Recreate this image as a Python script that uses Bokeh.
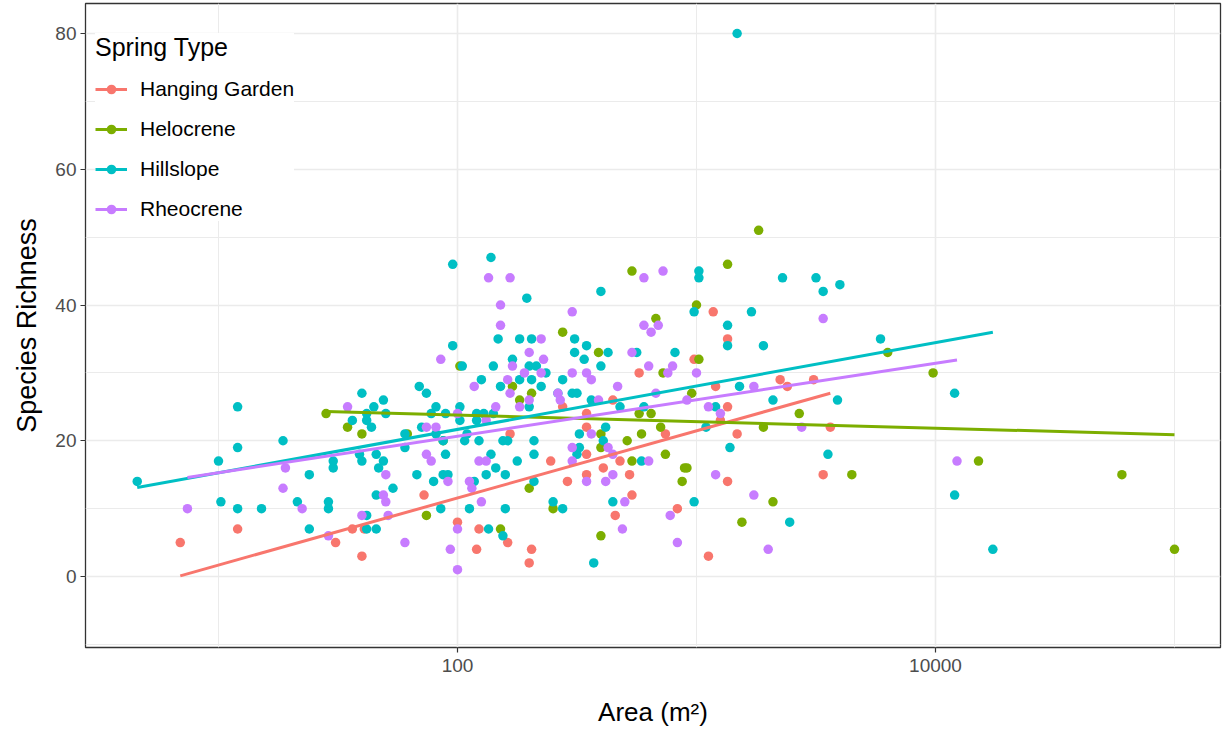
from bokeh.plotting import figure
from bokeh.models import (ColumnDataSource, Range1d, FixedTicker, NumeralTickFormatter,
                          Legend, LegendItem)
from bokeh.embed import file_html
from bokeh.resources import INLINE

spring_types = ["Hanging Garden", "Helocrene", "Hillslope", "Rheocrene"]
colors = ["#F8766D", "#7CAE00", "#00BFC4", "#C77CFF"]

# log10(Area, m^2) and species richness
hg_log_area = [0.84, 1.08, 1.49, 1.56, 1.61, 1.60, 1.86, 2.00, 2.08, 2.09,
               2.21, 2.22, 2.31, 2.30, 2.39, 2.46, 2.54, 2.54, 2.54, 2.61,
               2.68, 2.72, 2.73, 2.66, 2.44, 2.54, 2.65, 2.76, 2.87, 2.92,
               2.99, 3.05, 3.07, 3.08, 3.10, 3.13, 3.13, 3.13, 3.17, 3.35,
               3.38, 3.49, 3.53, 3.56]
hg_richness = [5, 7, 5, 7, 7, 3, 12, 8, 4, 7,
               5, 21, 4, 2, 17, 14, 22, 18, 15, 16,
               17, 15, 12, 9, 25, 24, 26, 30, 21, 10,
               32, 3, 39, 28, 23, 35, 25, 14, 21, 29,
               28, 29, 15, 22]

he_log_area = [1.45, 1.54, 1.60, 1.79, 1.94, 1.87, 2.01, 2.18, 2.23, 2.26,
               2.30, 2.31, 2.40, 2.44, 2.59, 2.60, 2.60, 2.60, 2.71, 2.73,
               2.73, 2.76, 2.77, 2.81, 2.83, 2.85, 2.86, 2.87, 2.94, 2.95,
               2.96, 2.98, 3.00, 3.01, 3.13, 3.19, 3.26, 3.28, 3.32, 3.43,
               3.65, 3.80, 3.99, 4.18, 4.78, 5.00]
he_richness = [24, 22, 21, 21, 20, 9, 31, 7, 28, 26,
               13, 27, 10, 36, 33, 21, 19, 6, 20, 45,
               17, 24, 21, 24, 38, 22, 30, 18, 14, 16,
               16, 27, 40, 32, 46, 8, 51, 22, 11, 24,
               15, 33, 30, 17, 15, 4]

hi_log_area = [3.17, 2.14, 1.98, 3.01, 3.01, 3.36, 3.50, 3.60, 2.60, 3.53, 2.29, 2.99, 3.23, 3.13,
               2.17, 2.26, 2.31, 2.49, 3.77, 1.98, 2.54, 3.13, 3.28, 2.49, 2.63, 2.75, 2.91, 2.23, 2.53,
               2.02, 2.15, 2.30, 2.33, 2.60, 2.37, 2.10, 2.26, 2.31, 2.44, 1.84, 2.18, 2.35, 3.18,
               1.60, 1.87, 2.42, 2.48, 2.50, 4.08, 1.69, 2.56, 3.32, 3.59,
               1.08, 1.65, 1.91, 2.01, 2.30, 2.68, 2.78, 3.08, 1.62, 1.70, 1.89, 1.95, 2.08, 2.11, 2.15,
               1.56, 1.62, 2.01, 2.08, 1.64, 1.85, 2.62, 3.04, 1.78, 1.91, 2.04, 2.51,
               1.27, 1.94, 2.03, 2.09, 2.19, 2.21, 2.32, 2.61, 1.08, 1.78, 2.51, 3.14,
               1.59, 1.66, 1.95, 2.14, 2.32, 2.50, 3.55, 1.00, 1.48, 1.60, 1.69, 2.25, 2.77, 1.48, 1.67, 2.16,
               1.38, 1.83, 1.94, 1.96, 2.12, 2.20, 0.66, 1.90, 2.07, 2.32, 1.73, 1.66, 4.08,
               1.01, 1.33, 1.46, 2.40, 2.65, 2.99, 1.08, 1.18, 1.46, 1.93, 2.05, 2.20, 2.44, 1.62, 3.39,
               1.38, 1.62, 1.66, 2.13, 2.19, 4.24, 2.57]
hi_richness = [80, 47, 46, 45, 44, 44, 44, 43, 42, 42, 41, 39, 39, 37,
               35, 35, 35, 35, 35, 34, 34, 34, 34, 33, 33, 33, 33, 32, 32,
               31, 31, 31, 31, 31, 30, 29, 29, 29, 29, 28, 28, 28, 28,
               27, 27, 27, 27, 27, 27, 26, 26, 26, 26,
               25, 25, 25, 25, 25, 25, 25, 25, 24, 24, 24, 24, 24, 24, 24,
               23, 23, 23, 23, 22, 22, 22, 22, 21, 21, 21, 21,
               20, 20, 20, 20, 20, 20, 20, 20, 19, 19, 19, 19,
               18, 18, 18, 18, 18, 18, 18, 17, 17, 17, 17, 17, 17, 16, 16, 16,
               15, 15, 15, 15, 15, 15, 14, 14, 14, 14, 13, 12, 12,
               11, 11, 11, 11, 11, 11, 10, 10, 10, 10, 10, 10, 10, 9, 8,
               7, 7, 7, 7, 6, 4, 2]

rh_log_area = [2.86, 2.13, 2.22, 2.78, 2.18, 2.48, 3.53, 2.18, 2.78, 2.84, 2.81, 2.35,
               2.30, 2.73, 1.93, 2.36, 2.23, 2.80, 2.90, 2.28, 2.35, 2.48, 2.54, 2.88, 3.00,
               2.21, 2.56, 2.07, 2.67, 3.24, 2.22, 2.42, 2.83, 2.30, 2.43, 2.59, 2.96,
               1.54, 2.16, 2.26, 3.05, 2.00, 3.10, 2.12, 1.87, 1.91, 3.44, 2.56, 2.48, 2.63,
               1.87, 2.65, 1.89, 2.09, 2.12, 2.48, 2.80, 4.09, 1.28, 1.70, 2.65, 3.08,
               1.96, 2.05, 2.54, 2.62, 1.27, 2.06, 1.69, 3.24, 1.70, 2.10, 2.70, 0.87, 1.35,
               1.60, 1.71, 2.89, 2.00, 2.69, 1.46, 1.78, 2.92, 1.97, 3.30, 2.00]
rh_richness = [45, 44, 44, 44, 40, 39, 38, 37, 37, 37, 36, 35,
               33, 33, 32, 32, 31, 31, 31, 30, 30, 30, 30, 30, 30,
               29, 29, 28, 28, 28, 27, 27, 27, 26, 26, 26, 26,
               25, 25, 25, 25, 24, 24, 23, 22, 22, 22, 21, 19, 19,
               18, 18, 17, 17, 17, 17, 17, 17, 16, 15, 15, 15,
               14, 14, 14, 14, 13, 13, 12, 12, 11, 11, 11, 10, 10,
               9, 9, 9, 7, 7, 6, 5, 5, 4, 4, 1]

# fitted lines (lm of richness on log area)
fit_log_area_start = [0.84, 1.45, 0.66, 0.87]
fit_log_area_end = [3.56, 5.00, 4.24, 4.09]
fit_richness_start = [0.1, 24.3, 13.1, 14.6]
fit_richness_end = [27.0, 20.9, 36.0, 31.9]

x_ticks = [100, 10000]
x_minor_ticks = [10, 1000, 100000]
y_ticks = [0, 20, 40, 60, 80]
y_minor_ticks = [-10, 10, 30, 50, 70]

FONT = "Liberation Sans"

p = figure(width=1222, height=731, x_axis_type="log",
           x_range=Range1d(10 ** 0.4435, 10 ** 5.1925), y_range=Range1d(-10.46, 84.42),
           output_backend="svg", toolbar_location=None,
           min_border_left=85, min_border_right=2, min_border_top=3, min_border_bottom=84)
p.background_fill_color = "white"
p.border_fill_color = "white"
p.outline_line_color = "#333333"
p.outline_line_width = 1.3

p.xaxis.ticker = FixedTicker(ticks=x_ticks, minor_ticks=x_minor_ticks)
p.yaxis.ticker = FixedTicker(ticks=y_ticks, minor_ticks=y_minor_ticks)
p.xaxis.formatter = NumeralTickFormatter(format="0")

for ax in (p.xaxis, p.yaxis):
    ax.axis_line_color = None
    ax.major_tick_line_color = "#333333"
    ax.major_tick_line_width = 1.2
    ax.major_tick_in = 0
    ax.major_tick_out = 5
    ax.minor_tick_line_color = None
    ax.major_label_text_font = FONT
    ax.major_label_text_font_size = "19px"
    ax.major_label_text_color = "#4D4D4D"
    ax.axis_label_text_font = FONT
    ax.axis_label_text_font_style = "normal"
    ax.axis_label_text_color = "black"
p.xaxis.axis_label_text_font_size = "26px"
p.yaxis.axis_label_text_font_size = "27px"
p.xaxis.axis_label = "Area (m²)"
p.yaxis.axis_label = "Species Richness"
p.xaxis.major_label_standoff = 6
p.yaxis.major_label_standoff = 4
p.xaxis.axis_label_standoff = 22
p.yaxis.axis_label_standoff = 10

for g in (p.xgrid, p.ygrid):
    g.grid_line_color = "#EBEBEB"
    g.grid_line_width = 1.6
    g.minor_grid_line_color = "#EBEBEB"
    g.minor_grid_line_width = 1.0

groups = [(hg_log_area, hg_richness), (he_log_area, he_richness),
          (hi_log_area, hi_richness), (rh_log_area, rh_richness)]

scatter_rs = []
for (la, rich), c in zip(groups, colors):
    src = ColumnDataSource(dict(area=[10 ** v for v in la], richness=rich))
    r = p.scatter("area", "richness", source=src, size=9.5, fill_color=c, line_color=None)
    scatter_rs.append(r)

line_rs = []
for i, c in enumerate(colors):
    src = ColumnDataSource(dict(
        area=[10 ** fit_log_area_start[i], 10 ** fit_log_area_end[i]],
        richness=[fit_richness_start[i], fit_richness_end[i]]))
    r = p.line("area", "richness", source=src, line_color=c, line_width=3)
    line_rs.append(r)

items = [LegendItem(label=name, renderers=[lr, sr])
         for name, lr, sr in zip(spring_types, line_rs, scatter_rs)]
legend = Legend(items=items, title="Spring Type", location=(10, 426))
legend.title_text_font = FONT
legend.title_text_font_size = "25px"
legend.title_text_font_style = "normal"
legend.title_text_color = "black"
legend.title_standoff = 15
legend.label_text_font = FONT
legend.label_text_font_size = "21px"
legend.label_text_color = "black"
legend.glyph_width = 32
legend.glyph_height = 24
legend.label_height = 24
legend.label_standoff = 13
legend.spacing = 16
legend.padding = 6
legend.margin = 0
legend.border_line_color = None
legend.background_fill_color = "white"
legend.background_fill_alpha = 1.0
p.add_layout(legend)

open("out.html", "w").write(file_html(p, INLINE))
